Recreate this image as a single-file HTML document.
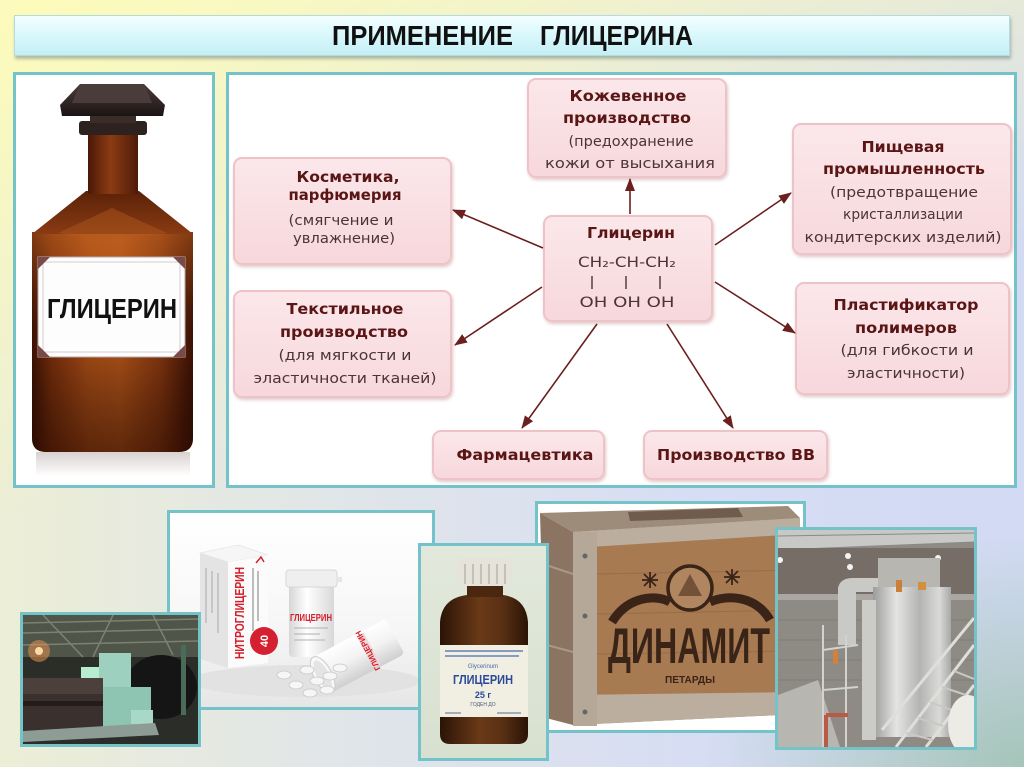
<!DOCTYPE html>
<html><head><meta charset="utf-8">
<style>
html,body{margin:0;padding:0}
body{width:1024px;height:767px;overflow:hidden;position:relative;
background:
 radial-gradient(ellipse 320px 230px at 100% 100%, rgba(150,190,165,0.75), rgba(150,190,165,0) 100%),
 linear-gradient(165deg, rgba(253,252,185,0.95) 0%, rgba(253,252,185,0) 50%),
 linear-gradient(to right, #eceed6 0%, #e0e5ea 35%, #d6ddf4 70%, #d2daf4 100%);
font-family:"DejaVu Sans",sans-serif;}
.panel{position:absolute;box-sizing:border-box;border:3px solid #74c3c8;background:#fff}
.box{position:absolute;box-sizing:border-box;border-radius:9px;background:linear-gradient(#fbe7ea,#f7d8dc);border:2px solid #eec3c7;box-shadow:1px 2px 3px rgba(170,100,100,.35)}
.photo{position:absolute;box-sizing:border-box;border:3px solid #74c3c8;overflow:hidden;background:#fff}
.photo svg{display:block}
#title{position:absolute;left:14px;top:15px;width:996px;height:41px;box-sizing:border-box;background:linear-gradient(#f3feff,#d6f7fb 55%,#c4eff5);border:1px solid #b4dcdf;box-shadow:1px 3px 3px rgba(90,110,110,.45)}
</style></head><body>

<div id="title"></div>
<div class="panel" style="left:13px;top:72px;width:202px;height:416px"></div>
<div class="panel" style="left:226px;top:72px;width:791px;height:416px"></div>

<div class="box" style="left:527px;top:78px;width:200px;height:100px"></div>
<div class="box" style="left:233px;top:157px;width:219px;height:108px"></div>
<div class="box" style="left:233px;top:290px;width:219px;height:108px"></div>
<div class="box" style="left:792px;top:123px;width:220px;height:132px"></div>
<div class="box" style="left:795px;top:282px;width:215px;height:113px"></div>
<div class="box" style="left:543px;top:215px;width:170px;height:107px"></div>
<div class="box" style="left:432px;top:430px;width:173px;height:50px"></div>
<div class="box" style="left:643px;top:430px;width:185px;height:50px"></div>

<svg style="position:absolute;left:0;top:0" width="1024" height="767" viewBox="0 0 1024 767">
<defs>
 <marker id="ah" markerWidth="13" markerHeight="10" refX="12" refY="5" orient="auto" markerUnits="userSpaceOnUse">
  <path d="M0,0 L13,5 L0,10 z" fill="#6b1f1f"/>
 </marker>
 <linearGradient id="bodyG" x1="0" x2="1" y1="0" y2="0">
  <stop offset="0" stop-color="#3a1204"/><stop offset=".12" stop-color="#6e2a0a"/>
  <stop offset=".35" stop-color="#9a4614"/><stop offset=".55" stop-color="#a24c16"/>
  <stop offset=".8" stop-color="#7a320e"/><stop offset=".95" stop-color="#4a1806"/><stop offset="1" stop-color="#3a1204"/>
 </linearGradient>
 <linearGradient id="bodyV" x1="0" x2="0" y1="0" y2="1">
  <stop offset="0" stop-color="#e87a2a" stop-opacity=".4"/><stop offset=".25" stop-color="#e87a2a" stop-opacity=".15"/>
  <stop offset=".55" stop-color="#000" stop-opacity="0"/><stop offset="1" stop-color="#1e0500" stop-opacity=".5"/>
 </linearGradient>
 <linearGradient id="neckG" x1="0" x2="1">
  <stop offset="0" stop-color="#4a1806"/><stop offset=".45" stop-color="#8c3c14"/><stop offset="1" stop-color="#4e1a08"/>
 </linearGradient>
 <linearGradient id="shG" x1="0" x2="0" y1="0" y2="1">
  <stop offset="0" stop-color="#5a2208"/><stop offset="1" stop-color="#8a3a12"/>
 </linearGradient>
 <linearGradient id="hatG" x1="0" x2="0" y1="0" y2="1">
  <stop offset="0" stop-color="#4a3c3a"/><stop offset="1" stop-color="#1c1414"/>
 </linearGradient>
 <linearGradient id="refl" x1="0" x2="0" y1="0" y2="1">
  <stop offset="0" stop-color="#d8d2d0"/><stop offset="1" stop-color="#ffffff"/>
 </linearGradient>
</defs>

<!-- title -->
<text x="332" y="45" font-family="Liberation Sans, sans-serif" font-weight="bold" font-size="28" fill="#111" textLength="181" lengthAdjust="spacingAndGlyphs">ПРИМЕНЕНИЕ</text>
<text x="540" y="45" font-family="Liberation Sans, sans-serif" font-weight="bold" font-size="28" fill="#111" textLength="153" lengthAdjust="spacingAndGlyphs">ГЛИЦЕРИНА</text>

<!-- bottle -->
<rect x="36" y="452" width="154" height="24" fill="url(#refl)"/>
<path d="M32,232 L32,438 Q32,452 46,452 L179,452 Q193,452 193,438 L193,232 Z" fill="url(#bodyG)"/>
<path d="M32,232 L32,438 Q32,452 46,452 L179,452 Q193,452 193,438 L193,232 Z" fill="url(#bodyV)"/>
<polygon points="32,234 86,191 139,191 193,234" fill="url(#shG)"/>
<polygon points="58,233 112,208 167,233 112,240" fill="#b05a20" opacity=".45"/>
<rect x="88" y="132" width="50" height="62" fill="url(#neckG)"/>
<rect x="79" y="121" width="68" height="14" rx="3" fill="#2e2220"/>
<rect x="90" y="114" width="46" height="9" fill="#3a2c28"/>
<polygon points="80,84 144,84 165,105 163,116 62,116 60,105" fill="url(#hatG)"/>
<polygon points="80,84 144,84 152,103 72,103" fill="#4a3c3a"/>
<rect x="38" y="257" width="147" height="100" fill="#fdfdfd" stroke="#b8a8a8" stroke-width="1"/>
<rect x="43" y="262" width="137" height="90" fill="none" stroke="#d6cccc" stroke-width="1"/>
<polygon points="38,257 50,257 38,269" fill="#7a4a4a"/>
<polygon points="185,257 173,257 185,269" fill="#7a4a4a"/>
<polygon points="38,357 50,357 38,345" fill="#7a4a4a"/>
<polygon points="185,357 173,357 185,345" fill="#7a4a4a"/>
<text x="112" y="318" text-anchor="middle" font-family="Liberation Sans, sans-serif" font-weight="bold" font-size="28" fill="#111" textLength="130" lengthAdjust="spacingAndGlyphs">ГЛИЦЕРИН</text>

<!-- arrows -->
<g stroke="#6b1f1f" stroke-width="1.6" fill="none" marker-end="url(#ah)">
 <line x1="630" y1="214" x2="630" y2="179"/>
 <line x1="543" y1="248" x2="453" y2="210"/>
 <line x1="542" y1="287" x2="455" y2="345"/>
 <line x1="597" y1="324" x2="522" y2="428"/>
 <line x1="667" y1="324" x2="733" y2="428"/>
 <line x1="715" y1="245" x2="791" y2="193"/>
 <line x1="715" y1="282" x2="795" y2="333"/>
</g>

<!-- box texts -->
<g font-family="DejaVu Sans, Verdana, sans-serif" text-anchor="middle">
 <g font-weight="bold" font-size="15.5" fill="#5a1515">
  <text x="628" y="101" textLength="117" lengthAdjust="spacingAndGlyphs">Кожевенное</text>
  <text x="627" y="123" textLength="128" lengthAdjust="spacingAndGlyphs">производство</text>
  <text x="348" y="182" textLength="103" lengthAdjust="spacingAndGlyphs">Косметика,</text>
  <text x="345" y="200" textLength="113" lengthAdjust="spacingAndGlyphs">парфюмерия</text>
  <text x="345" y="314" textLength="117" lengthAdjust="spacingAndGlyphs">Текстильное</text>
  <text x="344" y="337" textLength="128" lengthAdjust="spacingAndGlyphs">производство</text>
  <text x="903" y="152" textLength="83" lengthAdjust="spacingAndGlyphs">Пищевая</text>
  <text x="904" y="174" textLength="162" lengthAdjust="spacingAndGlyphs">промышленность</text>
  <text x="906" y="310" textLength="145" lengthAdjust="spacingAndGlyphs">Пластификатор</text>
  <text x="906" y="333" textLength="102" lengthAdjust="spacingAndGlyphs">полимеров</text>
  <text x="631" y="238" textLength="88" lengthAdjust="spacingAndGlyphs">Глицерин</text>
  <text x="525" y="460" textLength="137" lengthAdjust="spacingAndGlyphs">Фармацевтика</text>
  <text x="736" y="460" textLength="158" lengthAdjust="spacingAndGlyphs">Производство ВВ</text>
 </g>
 <g font-size="14.5" fill="#4a3434">
  <text x="631" y="146" textLength="125" lengthAdjust="spacingAndGlyphs">(предохранение</text>
  <text x="630" y="168" textLength="170" lengthAdjust="spacingAndGlyphs">кожи  от высыхания</text>
  <text x="341" y="225" textLength="105" lengthAdjust="spacingAndGlyphs">(смягчение и</text>
  <text x="344" y="243" textLength="102" lengthAdjust="spacingAndGlyphs">увлажнение)</text>
  <text x="345" y="360" textLength="133" lengthAdjust="spacingAndGlyphs">(для мягкости и</text>
  <text x="345" y="383" textLength="183" lengthAdjust="spacingAndGlyphs">эластичности тканей)</text>
  <text x="904" y="197" textLength="148" lengthAdjust="spacingAndGlyphs">(предотвращение</text>
  <text x="903" y="219" textLength="120" lengthAdjust="spacingAndGlyphs">кристаллизации</text>
  <text x="903" y="242" textLength="197" lengthAdjust="spacingAndGlyphs">кондитерских изделий)</text>
  <text x="907" y="355" textLength="133" lengthAdjust="spacingAndGlyphs">(для гибкости и</text>
  <text x="906" y="378" textLength="118" lengthAdjust="spacingAndGlyphs">эластичности)</text>
  <text x="627" y="267" textLength="98" lengthAdjust="spacingAndGlyphs">CH₂-CH-CH₂</text>
  <text x="627" y="307" textLength="95" lengthAdjust="spacingAndGlyphs">OH OH OH</text>
 </g>
 <g stroke="#4a3434" stroke-width="1.4">
  <line x1="592" y1="276" x2="592" y2="289"/>
  <line x1="626" y1="276" x2="626" y2="289"/>
  <line x1="660" y1="276" x2="660" y2="289"/>
 </g>
</g>
</svg>

<!-- pills photo -->
<div class="photo" style="left:167px;top:510px;width:268px;height:200px">
<svg width="262" height="194" viewBox="0 0 262 194">
 <defs>
  <linearGradient id="pbg" x1="0" x2="0" y1="0" y2="1"><stop offset="0" stop-color="#ffffff"/><stop offset=".6" stop-color="#f6f6f6"/><stop offset="1" stop-color="#e6e6e6"/></linearGradient>
  <linearGradient id="jarG" x1="0" x2="1"><stop offset="0" stop-color="#d6d6d6"/><stop offset=".4" stop-color="#ffffff"/><stop offset="1" stop-color="#d8d8d8"/></linearGradient>
  <linearGradient id="jarG2" x1="0" x2="0" y1="0" y2="1"><stop offset="0" stop-color="#ffffff"/><stop offset=".5" stop-color="#f2f2f2"/><stop offset="1" stop-color="#cfcfcf"/></linearGradient>
 </defs>
 <rect width="262" height="194" fill="url(#pbg)"/>
 <ellipse cx="135" cy="168" rx="115" ry="16" fill="#e2e2e2"/>
 <polygon points="30,40 68,32 98,42 58,49" fill="#f6f6f6" stroke="#dddddd" stroke-width=".6"/>
 <polygon points="30,40 58,49 58,155 30,146" fill="#e4e4e4"/>
 <polygon points="58,49 98,42 98,150 58,155" fill="#fbfbfb"/>
 <g stroke="#a8a8a8" stroke-width="1"><line x1="36" y1="55" x2="36" y2="110"/><line x1="42" y1="58" x2="42" y2="100"/><line x1="48" y1="60" x2="48" y2="120"/></g>
 <text transform="translate(74,100) rotate(-90)" text-anchor="middle" font-family="Liberation Sans, sans-serif" font-weight="bold" font-size="13" fill="#d4202c" textLength="92" lengthAdjust="spacingAndGlyphs">НИТРОГЛИЦЕРИН</text>
 <g stroke="#999" stroke-width="1.3"><line x1="83" y1="55" x2="83" y2="118"/><line x1="88" y1="58" x2="88" y2="108"/></g>
 <path d="M86,50 l5,-6 l3,5" stroke="#d4202c" stroke-width="1.5" fill="none"/>
 <circle cx="94" cy="128" r="14" fill="#d42030"/>
 <text transform="translate(98,128) rotate(-90)" text-anchor="middle" font-family="Liberation Sans, sans-serif" font-weight="bold" font-size="11" fill="#fff">40</text>
 <rect x="119" y="70" width="45" height="74" rx="4" fill="url(#jarG)"/>
 <rect x="116" y="57" width="51" height="17" rx="3" fill="#efefef" stroke="#cfcfcf" stroke-width=".8"/>
 <rect x="166" y="64" width="6" height="5" fill="#e6e6e6"/>
 <text x="141" y="108" text-anchor="middle" font-family="Liberation Sans, sans-serif" font-weight="bold" font-size="10" fill="#d4202c" textLength="42" lengthAdjust="spacingAndGlyphs">ГЛИЦЕРИН</text>
 <g stroke="#b0b0b0" stroke-width="1"><line x1="124" y1="115" x2="158" y2="115"/><line x1="124" y1="121" x2="150" y2="121"/><line x1="124" y1="127" x2="155" y2="127"/></g>
 <g transform="translate(188,143) rotate(-28)">
  <rect x="-40" y="-20" width="82" height="40" rx="4" fill="url(#jarG2)"/>
  <ellipse cx="-40" cy="0" rx="9" ry="20" fill="#f8f8f8" stroke="#cccccc"/>
  <ellipse cx="-40" cy="0" rx="6" ry="16" fill="#e4e4e4"/>
  <rect x="8" y="-18" width="8" height="36" fill="#f0d8da"/>
  <text transform="translate(14,0) rotate(-90)" text-anchor="middle" font-family="Liberation Sans, sans-serif" font-weight="bold" font-size="8" fill="#d4202c">ГЛИЦЕРИН</text>
 </g>
 <g fill="#f6f6f6" stroke="#c6c6c6" stroke-width=".8">
  <ellipse cx="114" cy="162" rx="7" ry="4"/><ellipse cx="126" cy="172" rx="7" ry="4"/>
  <ellipse cx="137" cy="157" rx="7" ry="4"/><ellipse cx="147" cy="168" rx="7" ry="4"/>
  <ellipse cx="160" cy="163" rx="7" ry="4"/><ellipse cx="170" cy="155" rx="7" ry="4"/>
  <ellipse cx="140" cy="180" rx="7" ry="4"/><ellipse cx="157" cy="177" rx="7" ry="4"/>
 </g>
</svg>
</div>

<!-- factory photo -->
<div class="photo" style="left:20px;top:612px;width:181px;height:135px">
<svg width="175" height="129" viewBox="0 0 175 129">
 <rect width="175" height="129" fill="#2b2d29"/>
 <rect x="0" y="0" width="175" height="42" fill="#4f5548"/>
 <g stroke="#7c8272" stroke-width="1.5"><line x1="0" y1="8" x2="175" y2="4"/><line x1="0" y1="18" x2="175" y2="14"/><line x1="0" y1="30" x2="175" y2="26"/><line x1="20" y1="0" x2="60" y2="42"/><line x1="90" y1="0" x2="70" y2="42"/><line x1="130" y1="0" x2="150" y2="40"/></g>
 <circle cx="16" cy="36" r="11" fill="#e09050" opacity=".55"/>
 <circle cx="16" cy="36" r="4" fill="#ffd8a8"/>
 <rect x="58" y="52" width="22" height="11" fill="#b8ecd0"/>
 <ellipse cx="138" cy="72" rx="36" ry="32" fill="#151515"/>
 <rect x="158" y="30" width="5" height="70" fill="#4a6a5a"/>
 <rect x="76" y="38" width="32" height="45" fill="#9dd0bf"/>
 <rect x="68" y="72" width="60" height="42" fill="#8ec4b2"/>
 <rect x="108" y="95" width="22" height="14" fill="#a8d8c8"/>
 <rect x="0" y="63" width="80" height="52" fill="#3a302e"/>
 <rect x="0" y="63" width="80" height="16" fill="#4c403c"/>
 <rect x="0" y="86" width="80" height="5" fill="#241c1a"/>
 <polygon points="0,116 132,108 136,120 0,127" fill="#8d9c95"/>
</svg>
</div>

<!-- dynamite photo -->
<div class="photo" style="left:535px;top:501px;width:271px;height:232px">
<svg width="265" height="226" viewBox="0 0 265 226">
 <rect width="265" height="226" fill="#fff"/>
 <polygon points="2,9 250,2 262,14 35,28" fill="#9d8c7a"/>
 <polygon points="90,8 200,4 205,13 92,17" fill="#4a3428" opacity=".55"/>
 <polygon points="2,9 35,28 35,221 8,214" fill="#8c7462"/>
 <g stroke="#a89888" stroke-width="2"><line x1="5" y1="60" x2="35" y2="70"/><line x1="5" y1="140" x2="35" y2="148"/></g>
 <polygon points="35,28 262,14 262,210 35,221" fill="#a87a52"/>
 <g stroke="#9a6c48" stroke-width="1"><line x1="59" y1="70" x2="262" y2="66"/><line x1="59" y1="110" x2="262" y2="106"/><line x1="59" y1="150" x2="262" y2="147"/></g>
 <polygon points="35,28 262,14 262,30 35,44" fill="#bbae9f"/>
 <polygon points="35,191 262,188 262,210 35,221" fill="#bbae9f"/>
 <rect x="35" y="28" width="24" height="194" fill="#b5a898"/>
 <g fill="#666"><circle cx="47" cy="52" r="2.5"/><circle cx="47" cy="112" r="2.5"/><circle cx="47" cy="208" r="2.5"/></g>
 <circle cx="152" cy="84" r="22" fill="#b08660" stroke="#3a2418" stroke-width="3.5"/>
 <path d="M140,92 L152,70 L164,92 Z" fill="#5a3a28" opacity=".7"/>
 <path d="M74,118 C90,92 118,90 132,98" stroke="#3a2418" stroke-width="9" fill="none"/>
 <path d="M172,98 C190,90 218,92 232,116" stroke="#3a2418" stroke-width="9" fill="none"/>
 <g stroke="#3a2418" stroke-width="1.8">
  <line x1="104" y1="76" x2="120" y2="76"/><line x1="112" y1="68" x2="112" y2="84"/><line x1="106" y1="70" x2="118" y2="82"/><line x1="118" y1="70" x2="106" y2="82"/>
  <line x1="186" y1="73" x2="202" y2="73"/><line x1="194" y1="65" x2="194" y2="81"/><line x1="188" y1="67" x2="200" y2="79"/><line x1="200" y1="67" x2="188" y2="79"/>
 </g>
 <text x="70" y="159" font-family="Liberation Sans, sans-serif" font-weight="bold" font-size="50" fill="#3a2418" textLength="162" lengthAdjust="spacingAndGlyphs">ДИНАМИТ</text>
 <text x="152" y="179" text-anchor="middle" font-family="Liberation Sans, sans-serif" font-weight="bold" font-size="10" fill="#3a2418" textLength="50" lengthAdjust="spacingAndGlyphs">ПЕТАРДЫ</text>
</svg>
</div>

<!-- glycerin bottle photo -->
<div class="photo" style="left:418px;top:543px;width:131px;height:218px;background:#dde5d6">
<svg width="125" height="212" viewBox="0 0 125 212">
 <defs>
  <linearGradient id="gbG" x1="0" x2="1"><stop offset="0" stop-color="#2a1406"/><stop offset=".45" stop-color="#6a3a18"/><stop offset=".7" stop-color="#5a3014"/><stop offset="1" stop-color="#2a1406"/></linearGradient>
  <linearGradient id="gbbg" x1="0" x2="0" y1="0" y2="1"><stop offset="0" stop-color="#e2e9dc"/><stop offset="1" stop-color="#d8e0d0"/></linearGradient>
 </defs>
 <rect width="125" height="212" fill="url(#gbbg)"/>
 <path d="M19,76 Q21,52 46,49 L82,49 Q105,52 107,76 L107,188 Q107,198 97,198 L29,198 Q19,198 19,188 Z" fill="url(#gbG)"/>
 <rect x="46" y="38" width="36" height="13" fill="#4a2810"/>
 <rect x="36" y="12" width="55" height="28" rx="7" fill="#e6e4da"/>
 <g stroke="#c4c2b8" stroke-width="2"><line x1="44" y1="18" x2="44" y2="38"/><line x1="52" y1="18" x2="52" y2="38"/><line x1="60" y1="18" x2="60" y2="38"/><line x1="68" y1="18" x2="68" y2="38"/><line x1="76" y1="18" x2="76" y2="38"/><line x1="84" y1="18" x2="84" y2="38"/></g>
 <rect x="19" y="99" width="88" height="72" fill="#f1eee2"/>
 <g stroke="#4a6ab0" stroke-width="1.2"><line x1="24" y1="105" x2="102" y2="105"/><line x1="24" y1="110" x2="98" y2="110"/></g>
 <text x="62" y="122" text-anchor="middle" font-family="Liberation Sans, sans-serif" font-size="6" fill="#4a6ab0">Glycerinum</text>
 <text x="62" y="138" text-anchor="middle" font-family="Liberation Sans, sans-serif" font-weight="bold" font-size="13" fill="#2a4a9a" textLength="60" lengthAdjust="spacingAndGlyphs">ГЛИЦЕРИН</text>
 <text x="62" y="152" text-anchor="middle" font-family="Liberation Sans, sans-serif" font-weight="bold" font-size="9" fill="#2a4a9a">25 г</text>
 <text x="62" y="160" text-anchor="middle" font-family="Liberation Sans, sans-serif" font-size="5" fill="#4a5a80">ГОДЕН ДО</text>
 <g stroke="#5a6a90" stroke-width="1"><line x1="24" y1="167" x2="40" y2="167"/><line x1="76" y1="167" x2="100" y2="167"/></g>
</svg>
</div>

<!-- tanks photo -->
<div class="photo" style="left:775px;top:527px;width:202px;height:223px;background:#8f8a84">
<svg width="196" height="217" viewBox="0 0 196 217">
 <defs>
  <linearGradient id="tkG" x1="0" x2="1"><stop offset="0" stop-color="#9c9c9a"/><stop offset=".3" stop-color="#e4e4e2"/><stop offset=".6" stop-color="#b4b4b2"/><stop offset=".85" stop-color="#dadad8"/><stop offset="1" stop-color="#a8a8a6"/></linearGradient>
 </defs>
 <rect width="196" height="217" fill="#8f8a84"/>
 <polygon points="0,0 196,0 196,12 0,20" fill="#c8c8c6"/>
 <g stroke="#8a8a88" stroke-width="1"><line x1="0" y1="6" x2="196" y2="3"/><line x1="0" y1="20" x2="196" y2="12"/></g>
 <rect x="0" y="18" width="196" height="48" fill="#756d66"/>
 <rect x="0" y="64" width="196" height="6" fill="#aaa6a2"/>
 <rect x="0" y="70" width="196" height="100" fill="#8e8a84"/>
 <g stroke="#807c76" stroke-width="1"><line x1="0" y1="90" x2="196" y2="90"/><line x1="0" y1="110" x2="196" y2="110"/><line x1="0" y1="130" x2="196" y2="130"/><line x1="0" y1="150" x2="196" y2="150"/></g>
 <g fill="#f4f4f4"><circle cx="2" cy="30" r="3"/><circle cx="70" cy="26" r="3"/><circle cx="72" cy="37" r="3"/><circle cx="160" cy="28" r="3"/></g>
 <path d="M60,115 L60,58 Q62,48 75,48 L128,48 L128,62 L78,62 L78,115 Z" fill="#c9c9c6"/>
 <polygon points="0,165 40,150 62,217 0,217" fill="#b8b6b0"/>
 <rect x="100" y="28" width="62" height="30" fill="#b8b6b0"/>
 <rect x="95" y="57" width="78" height="150" fill="url(#tkG)"/>
 <rect x="84" y="70" width="14" height="140" fill="#cbcbc7"/>
 <rect x="118" y="50" width="6" height="12" fill="#c8803a"/>
 <rect x="140" y="52" width="8" height="8" fill="#d09040"/>
 <rect x="55" y="120" width="5" height="14" fill="#d08040"/>
 <g stroke="#d2d2ce" stroke-width="2"><line x1="45" y1="95" x2="45" y2="217"/><line x1="68" y1="105" x2="68" y2="217"/><line x1="45" y1="120" x2="80" y2="115"/><line x1="45" y1="160" x2="80" y2="157"/></g>
 <path d="M48,185 L48,217 M48,185 L70,185" stroke="#b85a44" stroke-width="4" fill="none"/>
 <g stroke="#dededa" stroke-width="3"><line x1="118" y1="217" x2="196" y2="115"/><line x1="148" y1="217" x2="196" y2="155"/><line x1="104" y1="200" x2="196" y2="88"/></g>
 <g stroke="#c8c8c4" stroke-width="2"><line x1="128" y1="203" x2="155" y2="210"/><line x1="140" y1="188" x2="165" y2="196"/><line x1="152" y1="172" x2="176" y2="181"/><line x1="164" y1="157" x2="188" y2="165"/><line x1="176" y1="141" x2="196" y2="149"/></g>
 <ellipse cx="190" cy="195" rx="20" ry="30" fill="#ecebe6"/>
</svg>
</div>

</body></html>
